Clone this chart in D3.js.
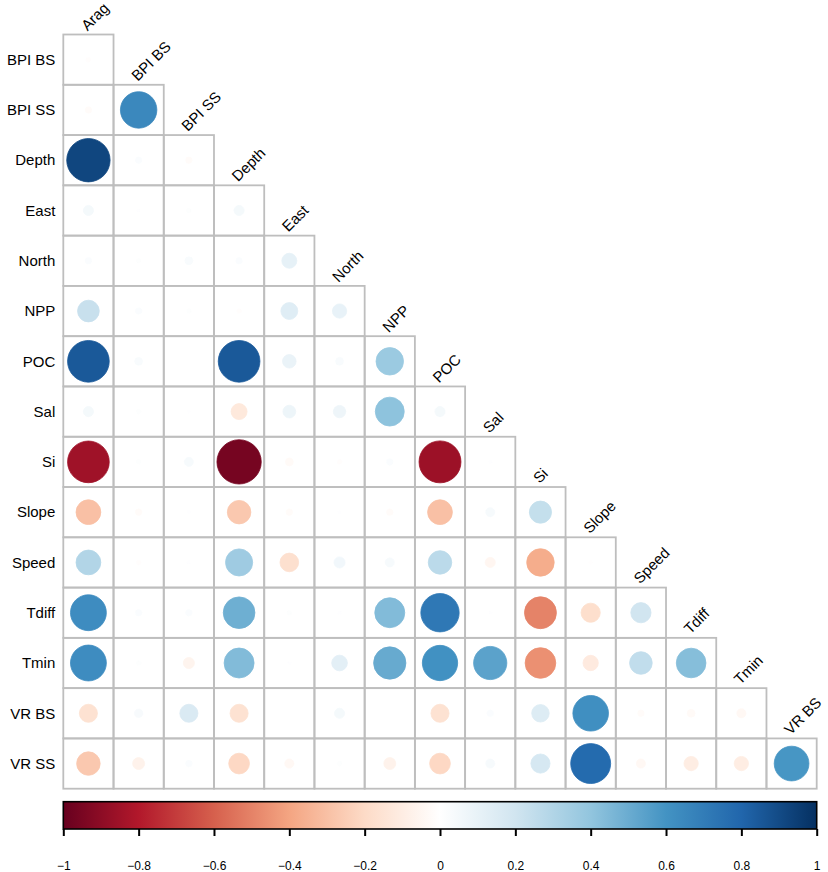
<!DOCTYPE html>
<html>
<head>
<meta charset="utf-8">
<script src="https://cdn.jsdelivr.net/npm/d3@7"></script>
<style>
  html, body { margin: 0; padding: 0; background: #fff; }
  svg { display: block; }
  text { font-family: "Liberation Sans", Arial, Helvetica, sans-serif; fill: #000; }
</style>
</head>
<body>
<svg id="chart" width="828" height="872"></svg>
<script>
// ---- Data ----
const rowVars = ["BPI BS","BPI SS","Depth","East","North","NPP","POC","Sal","Si","Slope","Speed","Tdiff","Tmin","VR BS","VR SS"];
const colVars = ["Arag","BPI BS","BPI SS","Depth","East","North","NPP","POC","Sal","Si","Slope","Speed","Tdiff","Tmin","VR BS"];

// lower-triangle correlations, one array per row (columns Arag ... in order)
const corBPI_BS = [-0.01];
const corBPI_SS = [-0.02, 0.65];
const corDepth  = [0.92, 0.02, -0.02];
const corEast   = [0.05, 0.005, 0.01, 0.05];
const corNorth  = [0.02, 0.01, 0.03, 0.02, 0.11];
const corNPP    = [0.23, 0.02, 0.01, -0.01, 0.14, 0.10];
const corPOC    = [0.85, 0.03, 0.0, 0.85, 0.09, 0.03, 0.37];
const corSal    = [0.05, 0.01, 0.005, -0.125, 0.08, 0.075, 0.41, 0.05];
const corSi     = [-0.85, 0.01, 0.04, -0.96, -0.03, -0.01, 0.02, -0.86, 0.005];
const corSlope  = [-0.30, -0.02, 0.005, -0.27, -0.02, 0.005, -0.02, -0.30, 0.04, 0.24];
const corSpeed  = [0.30, -0.01, 0.005, 0.36, -0.17, 0.06, 0.04, 0.27, -0.05, -0.37, -0.005];
const corTdiff  = [0.63, 0.02, 0.02, 0.49, 0.01, 0.005, 0.44, 0.72, 0.005, -0.50, -0.18, 0.20];
const corTmin   = [0.63, 0.01, -0.06, 0.44, 0.005, 0.12, 0.51, 0.61, 0.54, -0.46, -0.115, 0.25, 0.43];
const corVR_BS  = [-0.16, 0.035, 0.16, -0.16, 0.0, 0.05, 0.0, -0.16, 0.02, 0.15, 0.62, -0.02, -0.03, -0.04];
const corVR_SS  = [-0.27, -0.07, 0.02, -0.21, -0.04, 0.01, -0.07, -0.21, 0.04, 0.18, 0.78, -0.04, -0.10, -0.10, 0.59];
const corRows = [corBPI_BS, corBPI_SS, corDepth, corEast, corNorth, corNPP, corPOC, corSal, corSi, corSlope, corSpeed, corTdiff, corTmin, corVR_BS, corVR_SS];

const tickValues = [-1,-0.8,-0.6,-0.4,-0.2,0,0.2,0.4,0.6,0.8,1];
const tickLabels = ["\u22121","\u22120.8","\u22120.6","\u22120.4","\u22120.2","0","0.2","0.4","0.6","0.8","1"];
const paletteColors = ["#67001F","#B2182B","#D6604D","#F4A582","#FDDBC7","#FFFFFF","#D1E5F0","#92C5DE","#4393C3","#2166AC","#053061"];

// ---- Layout ----
const gridLeft = 63.3, gridRight = 816.7, gridTop = 34.5, gridBottom = 788.7;
const barTop = 801.7, barBottom = 829;

const svg = d3.select("#chart");

const x = d3.scaleBand().domain(colVars).range([gridLeft, gridRight]).paddingInner(0).paddingOuter(0);
const y = d3.scaleBand().domain(rowVars).range([gridTop, gridBottom]).paddingInner(0).paddingOuter(0);
const color = d3.scaleLinear().domain(tickValues).range(paletteColors).interpolate(d3.interpolateRgb);
const cell = Math.min(x.bandwidth(), y.bandwidth());

// flatten cells
const cells = [];
corRows.forEach((vals, i) => {
  vals.forEach((v, j) => cells.push({row: rowVars[i], col: colVars[j], v}));
});

// circles first (under grid lines? corrplot draws grid after) 
const gCirc = svg.append("g");
gCirc.selectAll("circle").data(cells).join("circle")
  .attr("cx", d => x(d.col) + x.bandwidth()/2)
  .attr("cy", d => y(d.row) + y.bandwidth()/2)
  .attr("r", d => 0.9 * Math.sqrt(Math.abs(d.v)) / 2 * cell)
  .attr("fill", d => color(d.v))
  .attr("stroke", d => color(d.v))
  .attr("stroke-width", 0.8);

// grid rectangles
svg.append("g").selectAll("rect").data(cells).join("rect")
  .attr("x", d => x(d.col))
  .attr("y", d => y(d.row))
  .attr("width", x.bandwidth())
  .attr("height", y.bandwidth())
  .attr("fill", "none")
  .attr("stroke", "#bebebe")
  .attr("stroke-width", 1.8);

// row labels
svg.append("g").selectAll("text").data(rowVars).join("text")
  .attr("x", gridLeft - 8)
  .attr("y", d => y(d) + y.bandwidth()/2)
  .attr("dy", "0.35em")
  .attr("text-anchor", "end")
  .attr("font-size", 15)
  .text(d => d);

// column labels (rotated 45°), anchored at top of each column
svg.append("g").selectAll("text").data(colVars).join("text")
  .attr("transform", (d, j) => {
    const cx = x(d) + x.bandwidth()/2 - 1;
    const top = y(rowVars[j]) - 3;
    return `translate(${cx},${top}) rotate(-45)`;
  })
  .attr("text-anchor", "start")
  .attr("font-size", 15)
  .text(d => d);

// ---- Colour bar ----
const xBar = d3.scaleLinear().domain([-1, 1]).range([gridLeft, gridRight]);
const defs = svg.append("defs");
const grad = defs.append("linearGradient").attr("id", "cbar").attr("x1", "0%").attr("x2", "100%");
tickValues.forEach((t, i) => {
  grad.append("stop").attr("offset", ((t + 1) / 2 * 100) + "%").attr("stop-color", paletteColors[i]);
});
svg.append("rect")
  .attr("x", xBar(-1)).attr("y", barTop)
  .attr("width", xBar(1) - xBar(-1)).attr("height", barBottom - barTop)
  .attr("fill", "url(#cbar)")
  .attr("stroke", "#000").attr("stroke-width", 1.6);

const axis = d3.axisBottom(xBar).tickValues(tickValues).tickFormat((d, i) => tickLabels[i]).tickSize(7).tickPadding(25);
const gAx = svg.append("g").attr("transform", `translate(0,${barBottom})`).call(axis);
gAx.select(".domain").remove();
gAx.selectAll(".tick line").attr("stroke", "#000").attr("stroke-width", 2);
gAx.selectAll(".tick text").attr("font-size", 12).attr("font-family", "Liberation Sans, Arial, sans-serif").attr("fill", "#000");
</script>
</body>
</html>
